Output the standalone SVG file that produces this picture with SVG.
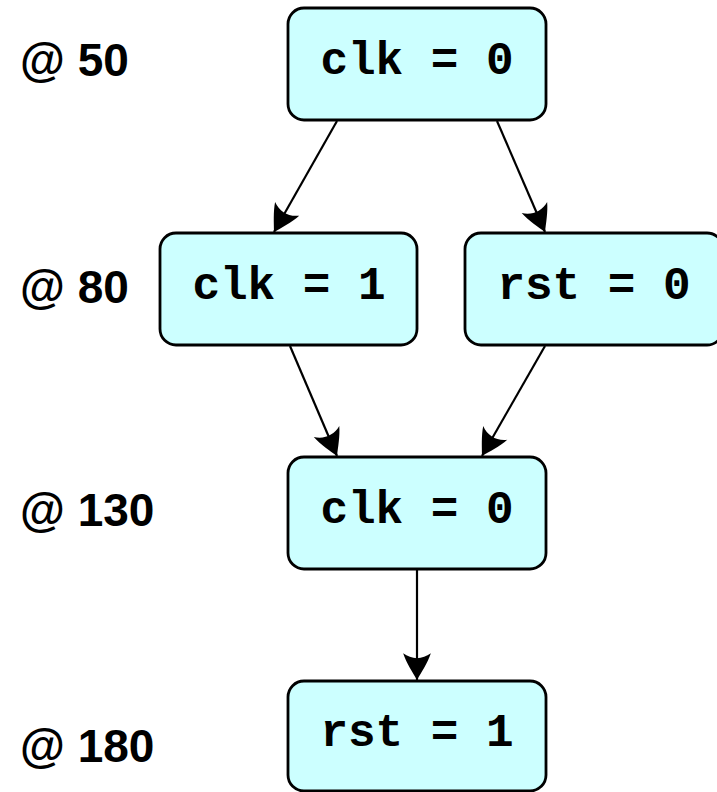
<svg xmlns="http://www.w3.org/2000/svg" width="717" height="792" viewBox="0 0 717 792">
  <style>
    .box { fill: #CCFFFF; stroke: #000; stroke-width: 2.8; }
    .code { font-family: "Liberation Mono", "Courier New", monospace; font-weight: bold; font-size: 46px; fill: #000; text-anchor: middle; }
    .time { font-family: "Liberation Sans", Arial, Helvetica, sans-serif; font-weight: bold; font-size: 46px; fill: #000; }
    .edge { stroke: #000; stroke-width: 2.2; fill: none; marker-end: url(#arrow); }
  </style>
  <defs>
    <marker id="arrow" markerUnits="userSpaceOnUse" markerWidth="32" markerHeight="32" viewBox="-26 -15 28 30" refX="0" refY="0" orient="auto">
      <path d="M0,0 C-7,-4 -16,-10 -25,-13 C-19,-5 -19,5 -25,13 C-16,10 -7,4 0,0 Z" fill="#000"/>
    </marker>
  </defs>

  <!-- time labels -->
  <text class="time" x="20" y="76">@ 50</text>
  <text class="time" x="20" y="303">@ 80</text>
  <text class="time" x="20" y="526">@ 130</text>
  <text class="time" x="20" y="762">@ 180</text>

  <!-- connectors -->
  <g id="edges">
    <line class="edge" x1="337" y1="121" x2="274" y2="232"/>
    <line class="edge" x1="497" y1="121" x2="545" y2="232"/>
    <line class="edge" x1="290" y1="346" x2="337" y2="456"/>
    <line class="edge" x1="545" y1="346" x2="482" y2="456"/>
    <line class="edge" x1="417" y1="570" x2="417" y2="680"/>
  </g>

  <g id="n_clk0_a">
    <rect class="box" x="288" y="8" width="258" height="112" rx="16"/>
    <text class="code" x="417" y="74">clk = 0</text>
  </g>
  <g id="n_clk1">
    <rect class="box" x="160" y="233" width="257" height="112" rx="16"/>
    <text class="code" x="289" y="299">clk = 1</text>
  </g>
  <g id="n_rst0">
    <rect class="box" x="465" y="233" width="258" height="112" rx="16"/>
    <text class="code" x="594" y="299">rst = 0</text>
  </g>
  <g id="n_clk0_b">
    <rect class="box" x="288" y="457" width="258" height="112" rx="16"/>
    <text class="code" x="417" y="523">clk = 0</text>
  </g>
  <g id="n_rst1">
    <rect class="box" x="288" y="681" width="258" height="110" rx="16"/>
    <text class="code" x="417" y="746">rst = 1</text>
  </g>
</svg>
